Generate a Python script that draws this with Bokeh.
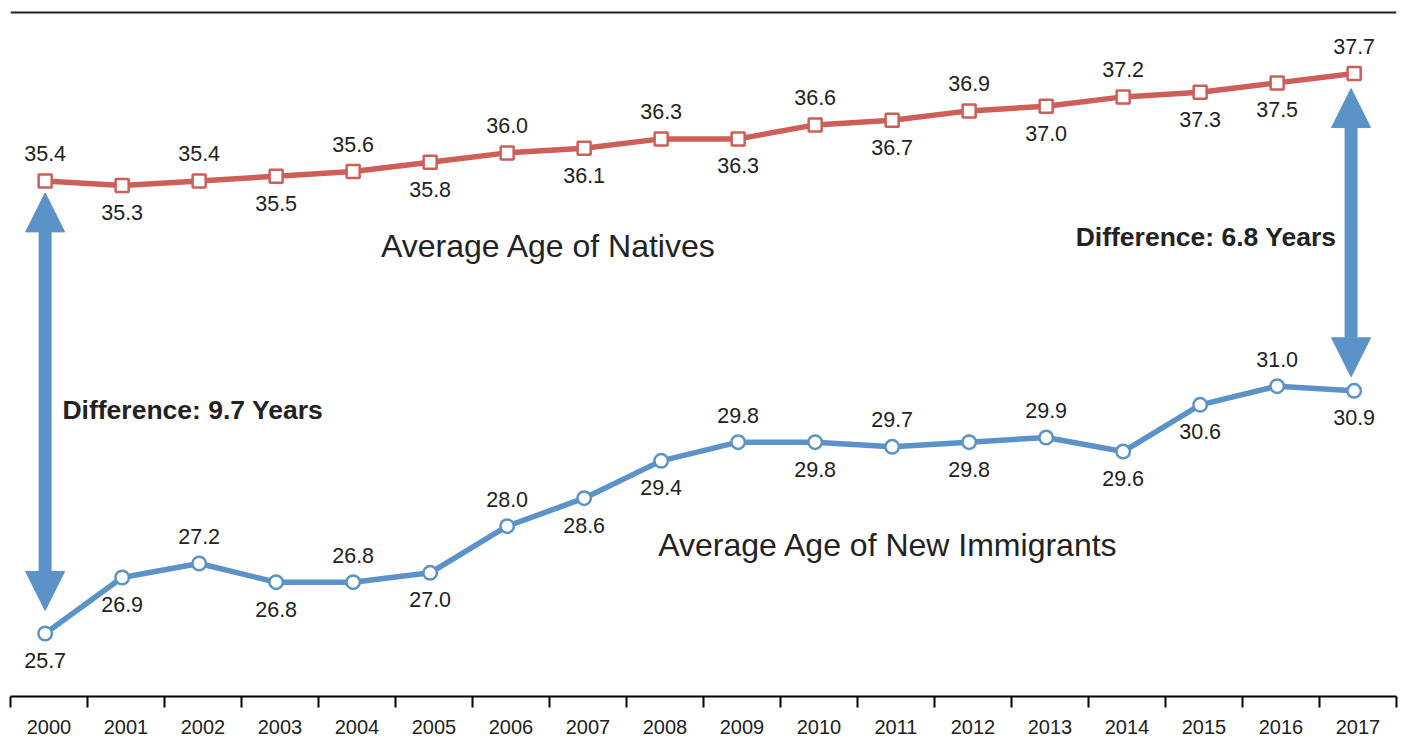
from bokeh.plotting import figure
from bokeh.models import ColumnDataSource, FixedTicker, Range1d, Arrow, NormalHead, Span
from bokeh.core.properties import value
from bokeh.embed import file_html
from bokeh.resources import INLINE

# ---- data ----
years = [str(y) for y in range(2000, 2018)]
natives = [35.4, 35.3, 35.4, 35.5, 35.6, 35.8, 36.0, 36.1, 36.3, 36.3,
           36.6, 36.7, 36.9, 37.0, 37.2, 37.3, 37.5, 37.7]
immigrants = [25.7, 26.9, 27.2, 26.8, 26.8, 27.0, 28.0, 28.6, 29.4, 29.8,
              29.8, 29.7, 29.8, 29.9, 29.6, 30.6, 31.0, 30.9]
natives_label_pos = ["a", "b", "a", "b", "a", "b", "a", "b", "a", "b",
                     "a", "b", "a", "b", "a", "b", "b", "a"]
immigrants_label_pos = ["b", "b", "a", "b", "a", "b", "a", "b", "b", "a",
                        "b", "a", "b", "a", "b", "b", "a", "b"]
series_names = ["Average Age of Natives", "Average Age of New Immigrants"]

# ---- styling ----
RED = "#cd5f58"
BLUE = "#5b93c8"
TXT = "#222222"
FONT = "Liberation Sans"
PX_PER_UNIT = 46.67   # vertical scale, pixels per year of age

n = len(years)
xs = list(range(n))

p = figure(width=1404, height=743, output_backend="svg", toolbar_location=None,
           x_range=Range1d(-0.45, n - 0.45), y_range=Range1d(24.35, 39.03),
           min_border_left=10, min_border_right=8, min_border_top=11,
           min_border_bottom=47, outline_line_color=None,
           background_fill_color="white", border_fill_color="white")
p.grid.visible = False
p.yaxis.visible = False

# x axis: labels at centres, ticks at boundaries
xa = p.xaxis[0]
xa.ticker = FixedTicker(ticks=[i + 0.05 for i in xs],
                        minor_ticks=[i - 0.45 for i in range(n + 1)])
xa.major_label_overrides = {i + 0.05: years[i] for i in xs}
xa.major_tick_out = 0
xa.major_tick_in = 0
xa.minor_tick_out = 11
xa.minor_tick_in = 0
xa.minor_tick_line_color = "black"
xa.minor_tick_line_width = 2
xa.axis_line_color = "black"
xa.axis_line_width = 2
xa.major_label_text_font = FONT
xa.major_label_text_font_size = "20px"
xa.major_label_text_color = TXT
xa.major_label_standoff = 12

# top rule
p.add_layout(Span(location=39.03, dimension="width", line_color="#222222", line_width=4))

# lines and markers
p.line(xs, natives, line_color=RED, line_width=5.5)
p.scatter(xs, natives, marker="square", size=13, fill_color="white",
          line_color=RED, line_width=2.5)
p.line(xs, immigrants, line_color=BLUE, line_width=5.5)
p.scatter(xs, immigrants, marker="circle", size=13.5, fill_color="white",
          line_color=BLUE, line_width=2.5)

# data labels
off = 27 / PX_PER_UNIT
for vals, pos in ((natives, natives_label_pos), (immigrants, immigrants_label_pos)):
    ly = [v + off if s == "a" else v - off for s, v in zip(pos, vals)]
    src = ColumnDataSource(dict(x=xs, y=ly, t=["%.1f" % v for v in vals]))
    p.text("x", "y", text="t", source=src, text_font=value(FONT),
           text_font_size="21.5px", text_color=TXT, text_align="center",
           text_baseline="middle")

# series names
p.text(x=[6.54], y=[34.01], text=[series_names[0]], text_font=value(FONT),
       text_font_size="32px", text_color=TXT, text_align="center", text_baseline="middle")
p.text(x=[10.95], y=[27.59], text=[series_names[1]], text_font=value(FONT),
       text_font_size="32px", text_color=TXT, text_align="center", text_baseline="middle")

# difference arrows
d_first = natives[0] - immigrants[0]
d_last = natives[-1] - immigrants[-1]
head = 39
p.add_layout(Arrow(x_start=0, x_end=0,
                   y_start=immigrants[0] + 23 / PX_PER_UNIT,
                   y_end=natives[0] - 12 / PX_PER_UNIT,
                   line_color=BLUE, line_width=13,
                   start=NormalHead(size=head, fill_color=BLUE, line_color=BLUE),
                   end=NormalHead(size=head, fill_color=BLUE, line_color=BLUE)))
p.add_layout(Arrow(x_start=n - 1 - 0.04, x_end=n - 1 - 0.04,
                   y_start=immigrants[-1] + 14 / PX_PER_UNIT,
                   y_end=natives[-1] - 15 / PX_PER_UNIT,
                   line_color=BLUE, line_width=13,
                   start=NormalHead(size=head, fill_color=BLUE, line_color=BLUE),
                   end=NormalHead(size=head, fill_color=BLUE, line_color=BLUE)))

p.text(x=[0.225], y=[30.5], text=["Difference: %.1f Years" % d_first],
       text_font=value(FONT), text_font_size="26.5px", text_font_style="bold",
       text_color=TXT, text_align="left", text_baseline="middle")
p.text(x=[16.77], y=[34.2], text=["Difference: %.1f Years" % d_last],
       text_font=value(FONT), text_font_size="26.5px", text_font_style="bold",
       text_color=TXT, text_align="right", text_baseline="middle")

open("out.html", "w").write(file_html(p, INLINE))
